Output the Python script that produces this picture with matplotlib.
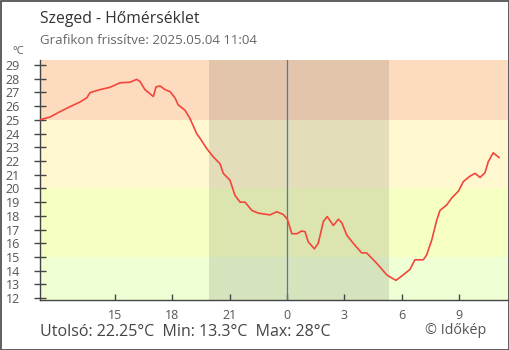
import matplotlib
matplotlib.use("Agg")
import matplotlib.pyplot as plt
from matplotlib.patches import Rectangle
import numpy as np

plt.rcParams['font.family'] = ['Open Sans', 'DejaVu Sans']

# hours relative to midnight, temperature in °C
hours = [-12.93, -12.38, -11.85, -11.33, -10.81, -10.46, -10.29, -9.77, -9.24, -8.72,
         -8.20, -7.85, -7.68, -7.42, -7.07, -6.98, -6.84, -6.63, -6.37, -6.11,
         -5.85, -5.69, -5.33, -5.07, -4.72, -4.54, -4.19, -3.85, -3.50, -3.33,
         -2.98, -2.72, -2.45, -2.19, -1.84, -1.50, -0.89, -0.54, -0.19, 0.02,
         0.25, 0.51, 0.77, 0.94, 1.11, 1.43, 1.63, 1.90, 2.10, 2.42,
         2.68, 2.86, 3.12, 3.46, 3.90, 4.16, 4.68, 5.21, 5.38, 5.69,
         6.07, 6.42, 6.68, 7.12, 7.29, 7.56, 7.82, 7.99, 8.34, 8.60,
         8.95, 9.21, 9.56, 9.82, 10.08, 10.34, 10.51, 10.77, 11.07]
temps = [25.0, 25.2, 25.6, 25.96, 26.3, 26.6, 26.98, 27.2, 27.37, 27.7,
         27.74, 27.95, 27.8, 27.2, 26.8, 26.7, 27.4, 27.47, 27.2, 27.05,
         26.6, 26.1, 25.7, 25.1, 24.0, 23.65, 22.9, 22.3, 21.8, 21.1,
         20.6, 19.5, 19.0, 19.0, 18.4, 18.2, 18.07, 18.3, 18.1, 17.75,
         16.7, 16.7, 16.9, 16.85, 16.1, 15.6, 16.0, 17.6, 17.95, 17.3,
         17.75, 17.5, 16.6, 16.0, 15.3, 15.3, 14.55, 13.7, 13.55, 13.3,
         13.7, 14.1, 14.8, 14.8, 15.15, 16.25, 17.7, 18.4, 18.8, 19.3,
         19.8, 20.5, 20.9, 21.1, 20.8, 21.15, 21.95, 22.6, 22.25]

x_ticks = [-9, -6, -3, 0, 3, 6, 9]
x_labels = ['15', '18', '21', '0', '3', '6', '9']
y_ticks = list(range(12, 30))

# colour bands (lower, upper, colour)
bands = [(0, 15, '#eeffd4'), (15, 20, '#f5ffc2'), (20, 25, '#fff7cf'), (25, 40, '#fddbbe')]
night = (-4.07, 5.33)

title = 'Szeged - Hőmérséklet'
subtitle = 'Grafikon frissítve: 2025.05.04 11:04'
summary = 'Utolsó: 22.25°C  Min: 13.3°C  Max: 28°C'

fig = plt.figure(figsize=(5.1, 3.5), dpi=100)
ax = fig.add_axes([40 / 510, 50 / 350, 468 / 510, 240 / 350])

xmin, xmax = -12.9, 11.54
ymin, ymax = 11.87, 29.36
for lo, hi, c in bands:
    ax.axhspan(lo, hi, color=c, lw=0, zorder=0)
ax.axvspan(night[0], night[1], color='#4e4c44', alpha=0.15, lw=0, zorder=1)
ax.axvline(0, color='#3a80b4', lw=0.9, zorder=2)

ax.plot(hours, temps, color='#f2463c', lw=1.2, zorder=3)

ax.set_xlim(xmin, xmax)
ax.set_ylim(ymin, ymax)

for s in ['top', 'right']:
    ax.spines[s].set_visible(False)
for s in ['left', 'bottom']:
    ax.spines[s].set_color('#444444')
    ax.spines[s].set_linewidth(1.0)

ax.set_yticks(y_ticks)
ax.set_xticks(x_ticks)
ax.set_xticklabels(x_labels)
ax.tick_params(axis='y', direction='inout', length=9, width=1, color='#444444',
               labelsize=9, labelcolor='#555555', pad=10)
ax.tick_params(axis='x', direction='in', length=4.5, width=1, color='#444444',
               labelsize=9, labelcolor='#555555', pad=6.5)

fig.text(40 / 510, 1 - 19 / 350, title, fontsize=11.3, color='#333333', va='center')
fig.text(40 / 510, 1 - 41 / 350, subtitle, fontsize=9.5, color='#666666', va='center')
fig.text(12 / 510, 1 - 51 / 350, '°C', fontsize=8, color='#555555', va='center')
fig.text(40 / 510, 1 - 332 / 350, summary, fontsize=11.5, color='#444444', va='center')
fig.text(425 / 510, 1 - 331 / 350, '© Időkép', fontsize=10.3, color='#555555', va='center')

fig.patches.append(Rectangle((0.5 / 510, 0.5 / 350), 509 / 510, 349 / 350,
                             transform=fig.transFigure, fill=False,
                             edgecolor='#444444', lw=1.2))

fig.savefig('out.png', dpi=100)
